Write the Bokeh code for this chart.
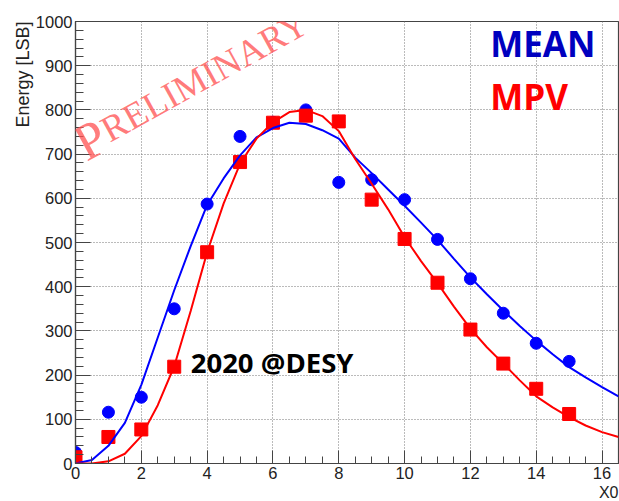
import math
from bokeh.plotting import figure
from bokeh.models import FixedTicker, Label, ColumnDataSource, Title
from bokeh.embed import file_html
from bokeh.resources import INLINE

# ---- data ----
layers = [0, 1, 2, 3, 4, 5, 6, 7, 8, 9, 10, 11, 12, 13, 14, 15]
mean_vals = [25, 116, 150, 350, 587, 740, 772, 800, 636, 642, 597, 507, 418, 340, 272, 231]
mpv_vals = [14, 60, 77, 219, 478, 682, 771, 787, 774, 597, 508, 409, 303, 226, 169, 112]

fit_x = [0, 0.5, 1, 1.5, 2, 2.5, 3, 3.5, 4, 4.5, 5, 5.5, 6, 6.5, 7, 7.5, 8, 8.5,
         9, 9.5, 10, 10.5, 11, 11.5, 12, 12.5, 13, 13.5, 14, 14.5, 15, 15.5, 16, 16.5]
mean_fit = [0, 8, 40, 92, 178, 285, 392, 492, 585, 645, 697, 738, 759, 771, 768, 754,
            735, 692, 657, 620, 583, 545, 506, 463, 421, 383, 346, 311, 278, 247, 218,
            195, 173, 152]
mpv_fit = [0, 0, 5, 22, 62, 132, 220, 345, 478, 588, 678, 735, 772, 795, 800, 786,
           752, 689, 633, 575, 512, 458, 408, 355, 305, 263, 226, 188, 152, 127, 105,
           86, 71, 60]

x_major = [0, 2, 4, 6, 8, 10, 12, 14, 16]
y_major = [0, 100, 200, 300, 400, 500, 600, 700, 800, 900, 1000]
x_title = "X0"
y_title = "Energy [LSB]"

p = figure(width=619, height=501, x_range=(0, 16.5), y_range=(0, 1000),
           output_backend="svg", toolbar_location=None,
           min_border_left=75, min_border_right=1, min_border_top=21, min_border_bottom=38)
p.background_fill_color = "white"
p.border_fill_color = "white"
p.outline_line_color = "#444444"
p.outline_line_width = 1.2

# axes
p.xaxis.ticker = FixedTicker(ticks=x_major, minor_ticks=[i * 0.5 for i in range(34)])
p.yaxis.ticker = FixedTicker(ticks=y_major, minor_ticks=[i * 20 for i in range(51)])
for ax in (p.xaxis[0], p.yaxis[0]):
    ax.axis_line_color = "#444444"
    ax.axis_line_width = 1.2
    ax.major_tick_line_color = "#444444"
    ax.minor_tick_line_color = "#444444"
    ax.major_tick_out = 0
    ax.minor_tick_out = 0
    ax.major_label_text_font = "Liberation Sans"
    ax.major_label_text_font_size = "16.5px"
    ax.major_label_text_color = "#222222"
p.xaxis.major_tick_in = 13
p.xaxis.minor_tick_in = 7
p.yaxis.major_tick_in = 15
p.yaxis.minor_tick_in = 8
p.xaxis.major_label_standoff = 3
p.yaxis.major_label_standoff = 3

p.add_layout(Title(text=y_title, align="right", text_font="Liberation Sans",
                   text_font_style="normal", text_font_size="18px",
                   text_color="#222222", standoff=0), "left")
p.add_layout(Title(text=x_title, align="right", text_font="Liberation Sans",
                   text_font_style="normal", text_font_size="16px",
                   text_color="#222222", standoff=0), "below")

# grid
p.xgrid.ticker = FixedTicker(ticks=x_major)
p.ygrid.ticker = FixedTicker(ticks=y_major)
for g in (p.xgrid[0], p.ygrid[0]):
    g.grid_line_color = "#777777"
    g.grid_line_dash = "1 2"
    g.grid_line_width = 1

# data
src = ColumnDataSource(dict(x=layers, mean=mean_vals, mpv=mpv_vals))
fsrc = ColumnDataSource(dict(x=fit_x, mean=mean_fit, mpv=mpv_fit))
p.scatter("x", "mean", source=src, marker="circle", size=12, color="#0000ff")
p.scatter("x", "mpv", source=src, marker="square", size=13, color="#ff0000")
p.line("x", "mean", source=fsrc, line_color="#0000ff", line_width=2)
p.line("x", "mpv", source=fsrc, line_color="#ff0000", line_width=2)

# texts
ang = 29 * math.pi / 180
p.add_layout(Label(x=0.08, y=717, text="P", angle=ang, text_font="Liberation Serif",
                   text_baseline="alphabetic",
                   text_font_size="52px", text_color="#ff5050", text_alpha=0.75))
p.add_layout(Label(x=0.86, y=750, text="RELIMINARY", angle=ang, text_font="Liberation Serif",
                   text_baseline="alphabetic",
                   text_font_size="37px", text_color="#ff5050", text_alpha=0.75))
p.add_layout(Label(x=12.6, y=950, text="MEAN", text_font="Open Sans", text_font_style="bold",
                   text_baseline="alphabetic",
                   text_font_size="35px", text_color="#0000bf"))
p.add_layout(Label(x=12.6, y=830, text="MPV", text_font="Open Sans", text_font_style="bold",
                   text_baseline="alphabetic",
                   text_font_size="35px", text_color="#ff0000"))
p.add_layout(Label(x=3.5, y=228, text="2020 @DESY", text_font="Open Sans", text_font_style="bold",
                   text_baseline="alphabetic",
                   text_font_size="27.5px", text_color="#000000"))

open("out.html", "w").write(file_html(p, INLINE))
